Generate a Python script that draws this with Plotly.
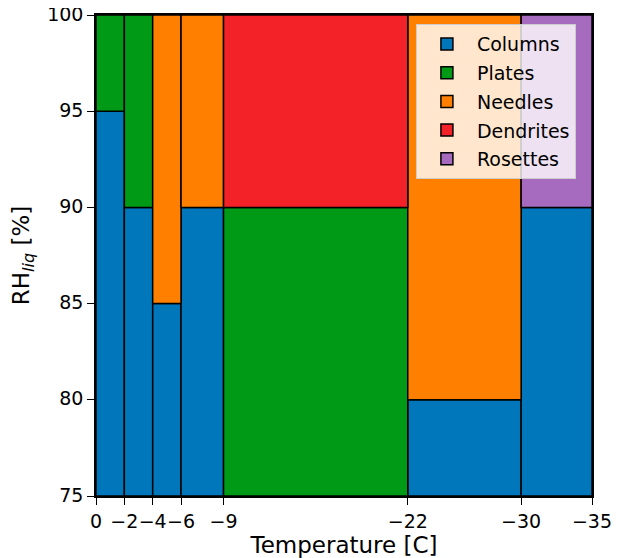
import plotly.graph_objects as go

# Temperature bin edges [C] and tick labels
temp_ticks = [0, -2, -4, -6, -9, -22, -30, -35]
tick_labels = ["0", "\u22122", "\u22124", "\u22126", "\u22129", "\u221222", "\u221230", "\u221235"]
rh_ticks = [75, 80, 85, 90, 95, 100]

# Segments per habit: (T start, T end, RH low, RH high)
columns = [(0, -2, 75, 95), (-2, -4, 75, 90), (-4, -6, 75, 85), (-6, -9, 75, 90),
           (-22, -30, 75, 80), (-30, -35, 75, 90)]
plates = [(0, -2, 95, 100), (-2, -4, 90, 100), (-9, -22, 75, 90)]
needles = [(-4, -6, 85, 100), (-6, -9, 90, 100), (-22, -30, 80, 100)]
dendrites = [(-9, -22, 90, 100)]
rosettes = [(-30, -35, 90, 100)]

habits = [("Columns", columns, "#0077BB"),
          ("Plates", plates, "#009A17"),
          ("Needles", needles, "#FF8000"),
          ("Dendrites", dendrites, "#F22228"),
          ("Rosettes", rosettes, "#A66BBE")]

fig = go.Figure()
for name, segs, color in habits:
    fig.add_trace(go.Bar(
        name=name,
        legendgroup=name,
        x=[(a + b) / 2 for a, b, lo, hi in segs],
        width=[abs(b - a) for a, b, lo, hi in segs],
        base=[lo for a, b, lo, hi in segs],
        y=[hi - lo for a, b, lo, hi in segs],
        marker=dict(color=color, line=dict(color="black", width=1.5)),
        hoverinfo="skip",
    ))

fig.update_layout(
    width=614, height=550,
    margin=dict(l=88, r=30, t=7, b=62, autoexpand=False),
    barmode="overlay",
    plot_bgcolor="white", paper_bgcolor="white",
    font=dict(family="DejaVu Sans", size=19, color="black"),
    showlegend=True,
    legend=dict(x=0.645, y=0.981, xanchor="left", yanchor="top",
                bgcolor="rgba(255,255,255,0.8)", bordercolor="#cccccc", borderwidth=1,
                font=dict(size=19), traceorder="grouped", tracegroupgap=1,
                itemwidth=50),
    xaxis=dict(range=[0, -35], tickvals=temp_ticks, ticktext=tick_labels,
               tickangle=0,
               showgrid=False, zeroline=False, showline=True, linecolor="black",
               linewidth=1.5, mirror=True, ticks="outside", ticklen=7,
               tickcolor="black", tickwidth=1.2, automargin=False,
               ticklabeloverflow="allow",
               title=dict(text="Temperature [C]", standoff=6)),
    yaxis=dict(range=[75, 100], tickvals=rh_ticks,
               showgrid=False, zeroline=False, showline=True, linecolor="black",
               linewidth=1.5, mirror=True, ticks="outside", ticklen=7,
               tickcolor="black", tickwidth=1.2, automargin=False,
               ticklabeloverflow="allow", ticklabelshift=-1,
               title=dict(text="RH<sub><i>liq</i></sub> [%]", standoff=14)),
)

fig.write_html("out.html")
